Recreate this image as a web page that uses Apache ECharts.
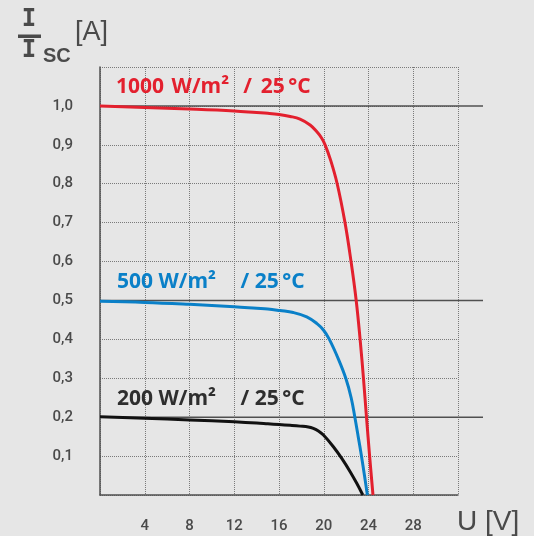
<!DOCTYPE html>
<html>
<head>
<meta charset="utf-8">
<style>
  html, body { margin: 0; padding: 0; background: #e6e6e6; }
  #chart { width: 534px; height: 536px; }
</style>
<script src="https://cdn.jsdelivr.net/npm/echarts@6/dist/echarts.min.js"></script>
</head>
<body>
<div id="chart"></div>
<script>
// ---- data ----
const xTickValues = [4, 8, 12, 16, 20, 24, 28];
const yTickLabels = ['0,1', '0,2', '0,3', '0,4', '0,5', '0,6', '0,7', '0,8', '0,9', '1,0'];

const u1000 = [0, 4, 8, 12, 14, 15, 16, 17, 17.88, 18.78, 19.37, 19.82, 20.12, 20.62, 21.2, 21.9, 22.44, 22.9, 23.25, 23.55, 23.82, 24.1, 24.4];
const i1000 = [1.0, 0.996, 0.992, 0.987, 0.983, 0.981, 0.978, 0.973, 0.966, 0.951, 0.934, 0.917, 0.9, 0.86, 0.8, 0.7, 0.6, 0.5, 0.4, 0.3, 0.2, 0.1, 0];

const u500 = [0, 4, 8, 12, 14, 15, 16.09, 17.28, 18.48, 19.37, 19.97, 20.5, 21.3, 21.97, 22.45, 22.78, 23.08, 23.37, 23.64, 23.9];
const i500 = [0.498, 0.495, 0.49, 0.484, 0.48, 0.478, 0.474, 0.469, 0.458, 0.441, 0.424, 0.4, 0.35, 0.3, 0.25, 0.2, 0.15, 0.1, 0.05, 0];

const u200 = [0, 4, 8, 12, 14, 15, 16, 17, 17.88, 18.62, 19.07, 19.52, 19.97, 20.86, 21.61, 22.36, 22.95, 23.49];
const i200 = [0.201, 0.197, 0.193, 0.188, 0.185, 0.183, 0.181, 0.179, 0.177, 0.1748, 0.171, 0.1645, 0.154, 0.124, 0.094, 0.06, 0.03, 0];

const refLevels = [1.0, 0.5, 0.2];

const seriesLabels = [
  '1000 \u200AW/m²\u2002\u2006/ \u200625\u2006°C',
  '500 W/m²\u2002\u2002\u2006/ 25\u2006°C',
  '200 W/m²\u2002\u2002\u2006/ 25\u2006°C'
];

// ---- helpers ----
const zip = (xs, ys) => xs.map((x, i) => [x, ys[i]]);
const textColor = '#4a4a4a';

const chart = echarts.init(document.getElementById('chart'));

const refSeries = refLevels.map(v => ({
  type: 'line',
  xAxisIndex: 1,
  yAxisIndex: 1,
  data: [[0, v], [1, v]],
  symbol: 'none',
  silent: true,
  lineStyle: { color: '#505050', width: 1.5 },
  z: 1
}));

const curve = (xs, ys, color) => ({
  type: 'line',
  xAxisIndex: 0,
  yAxisIndex: 0,
  data: zip(xs, ys),
  symbol: 'none',
  smooth: 0.4,
  lineStyle: { color: color, width: 3, join: 'round', cap: 'butt' },
  z: 3
});

chart.setOption({
  backgroundColor: '#e6e6e6',
  animation: false,
  grid: [
    { left: 100, right: 76, top: 67, bottom: 41, containLabel: false },
    { left: 100, right: 51, top: 67, bottom: 41, containLabel: false }
  ],
  xAxis: [
    {
      type: 'value', gridIndex: 0, min: 0, max: 32, interval: 4,
      axisLine: { show: true, lineStyle: { color: '#505050', width: 1.5 } },
      axisTick: { show: false },
      splitLine: { show: true, lineStyle: { color: '#7a7a7a', width: 1, type: [1, 1] } },
      axisLabel: {
        margin: 24,
        color: textColor,
        fontFamily: 'Roboto',
        fontWeight: 500,
        fontSize: 15,
        formatter: v => (xTickValues.indexOf(v) >= 0 ? String(v) : '')
      }
    },
    { type: 'value', gridIndex: 1, min: 0, max: 1, show: false }
  ],
  yAxis: [
    {
      type: 'value', gridIndex: 0, min: 0, max: 1.1, interval: 0.1,
      axisLine: { show: true, lineStyle: { color: '#505050', width: 1.5 } },
      axisTick: { show: false },
      splitLine: { show: true, lineStyle: { color: '#7a7a7a', width: 1, type: [1, 1] } },
      axisLabel: {
        margin: 27,
        color: textColor,
        fontFamily: 'Roboto',
        fontWeight: 500,
        fontSize: 15,
        formatter: v => {
          const idx = Math.round(v * 10) - 1;
          return (idx >= 0 && idx < yTickLabels.length) ? yTickLabels[idx] : '';
        }
      }
    },
    { type: 'value', gridIndex: 1, min: 0, max: 1.1, show: false }
  ],
  series: [
    ...refSeries,
    curve(u1000, i1000, '#e3202e'),
    curve(u500, i500, '#0a80c8'),
    curve(u200, i200, '#111111')
  ],
  graphic: [
    { type: 'text', left: 116, top: 77, z: 10,
      style: { text: seriesLabels[0], fill: '#e3202e', font: 'bold 21px "Open Sans"' } },
    { type: 'text', left: 117, top: 272, z: 10,
      style: { text: seriesLabels[1], fill: '#0a80c8', font: 'bold 21px "Open Sans"' } },
    { type: 'text', left: 117, top: 389, z: 10,
      style: { text: seriesLabels[2], fill: '#2e2e2e', font: 'bold 21px "Open Sans"' } },
    // axis titles
    { type: 'text', x: 29, y: 20, z: 10,
      style: { text: 'I', fill: textColor, font: 'bold 24px "DejaVu Sans Mono"', align: 'center', verticalAlign: 'middle' } },
    { type: 'rect', shape: { x: 18, y: 34.5, width: 23, height: 3.5 }, style: { fill: textColor }, z: 10 },
    { type: 'text', x: 29, y: 51, z: 10,
      style: { text: 'I', fill: textColor, font: 'bold 24px "DejaVu Sans Mono"', align: 'center', verticalAlign: 'middle' } },
    { type: 'text', x: 43, y: 56, z: 10,
      style: { text: 'SC', fill: textColor, font: 'bold 20px "Liberation Sans"', align: 'left', verticalAlign: 'middle' } },
    { type: 'text', x: 75, y: 33, z: 10,
      style: { text: '[A]', fill: textColor, font: '27px "Liberation Sans"', align: 'left', verticalAlign: 'middle' } },
    { type: 'text', x: 457, y: 522, z: 10,
      style: { text: 'U [V]', fill: textColor, font: '28px "Liberation Sans"', align: 'left', verticalAlign: 'middle' } }
  ]
});
</script>
</body>
</html>
